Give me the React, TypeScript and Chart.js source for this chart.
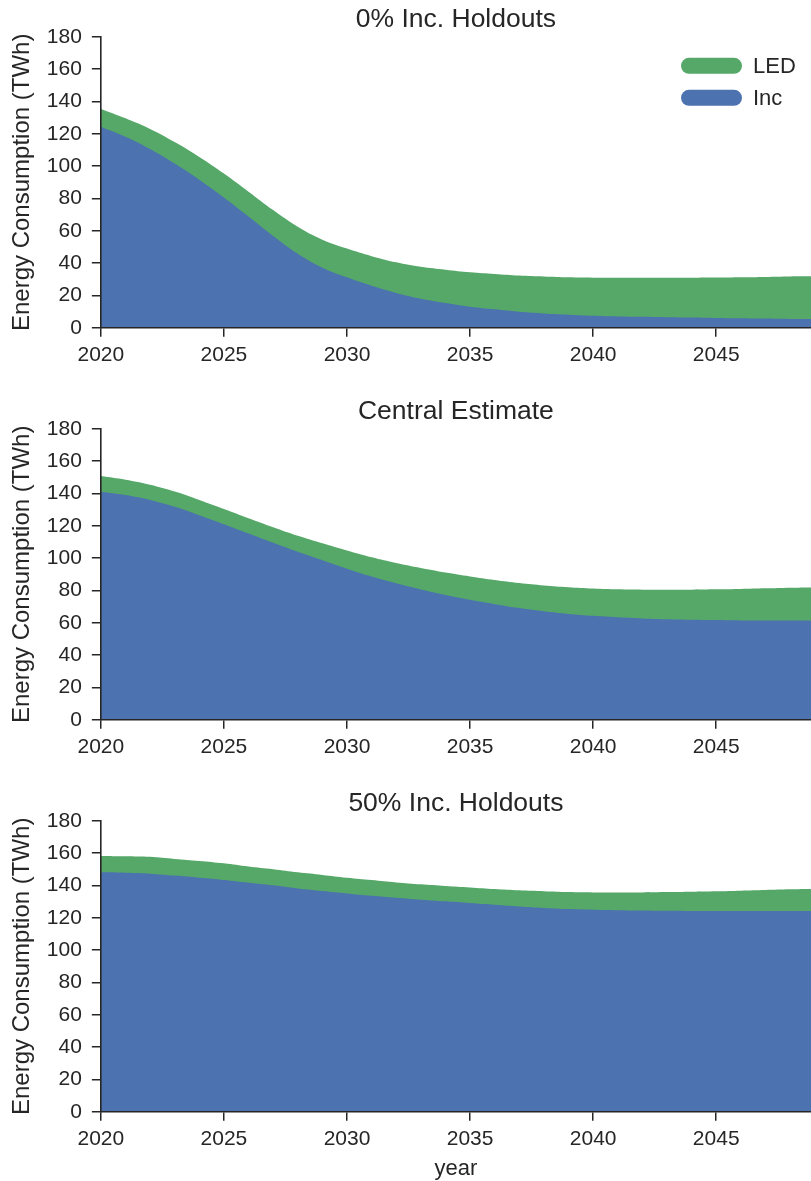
import { useEffect, useRef } from 'react';
import { Chart, registerables } from 'chart.js';

Chart.register(...registerables);

const years = [
  2020, 2021, 2022, 2023, 2024, 2025, 2026, 2027, 2028, 2029,
  2030, 2031, 2032, 2033, 2034, 2035, 2036, 2037, 2038, 2039,
  2040, 2041, 2042, 2043, 2044, 2045, 2046, 2047, 2048, 2049,
];
const xTicks = [2020, 2025, 2030, 2035, 2040, 2045];
const yTicks = [0, 20, 40, 60, 80, 100, 120, 140, 160, 180];

// 0% Inc. Holdouts
const zeroInc = [
  124.4, 118.2, 110.6, 101.6, 91.6, 80.6, 68.8, 56.8, 45.8, 37.2,
  31.2, 26, 21.6, 18, 15.3, 13, 11.4, 9.9, 8.9, 8.1,
  7.4, 7, 6.8, 6.6, 6.4, 6.1, 5.9, 5.7, 5.5, 5.4,
];
const zeroLed = [
  11, 11.4, 12.4, 13.3, 14.1, 14.8, 15.4, 16, 16.7, 17.3,
  17.8, 18.3, 18.9, 19.7, 20.6, 21.3, 21.9, 22.4, 22.8, 23.1,
  23.6, 24, 24.2, 24.4, 24.6, 25, 25.4, 25.8, 26.3, 26.5,
];

// Central Estimate
const centralInc = [
  141.1, 139, 136, 131.8, 126.6, 121, 115.2, 109.5, 103.9, 98.7,
  93.5, 88.6, 84.4, 80.6, 77.2, 74.2, 71.5, 69.1, 67.1, 65.5,
  64.3, 63.4, 62.7, 62.2, 61.9, 61.7, 61.5, 61.5, 61.5, 61.5,
];
const centralLed = [
  9.7, 9.5, 9.4, 9.4, 9.4, 9.4, 9.5, 9.6, 9.9, 10.5,
  11.2, 11.9, 12.6, 13.3, 13.9, 14.5, 15, 15.5, 16, 16.5,
  16.9, 17.3, 17.8, 18.3, 18.6, 19, 19.4, 19.8, 20.2, 20.4,
];

// 50% Inc. Holdouts
const halfInc = [
  148.1, 147.9, 147.3, 146.1, 144.8, 143.4, 141.7, 140.1, 138.2, 136.6,
  135.1, 133.7, 132.4, 131.2, 130.2, 129.2, 128.1, 127, 126.1, 125.4,
  125, 124.7, 124.5, 124.3, 124.2, 124.2, 124.2, 124.2, 124.2, 124.2,
];
const halfLed = [
  10.2, 10.2, 10.4, 10.3, 10.4, 10.3, 10, 9.9, 9.9, 9.9,
  9.7, 9.7, 9.5, 9.5, 9.5, 9.6, 9.7, 10, 10.3, 10.5,
  10.7, 11, 11.2, 11.6, 11.9, 12.2, 12.6, 13, 13.4, 13.6,
];

const BLUE = '#4c72b0';
const GREEN = '#55a868';
const TEXT = '#262626';
const FONT = "'Liberation Sans', Arial, sans-serif";

// legend drawn inside the plot, top right, with pill markers
const pillLegend = {
  id: 'pillLegend',
  afterDatasetsDraw(chart: any, _args: any, opts: any) {
    if (!opts || !opts.show) return;
    const { ctx, chartArea } = chart;
    const items = chart.data.datasets.slice().reverse();
    ctx.save();
    ctx.font = `22px ${FONT}`;
    ctx.textBaseline = 'middle';
    items.forEach((ds: any, i: number) => {
      const x = chartArea.right - 130;
      const y = chartArea.top + 21 + i * 32;
      ctx.fillStyle = ds.backgroundColor;
      ctx.beginPath();
      ctx.roundRect(x, y, 61, 16, 8);
      ctx.fill();
      ctx.fillStyle = TEXT;
      ctx.fillText(ds.label, x + 72, y + 9);
    });
    ctx.restore();
  },
};

interface PanelProps {
  title: string;
  inc: number[];
  led: number[];
  showLegend?: boolean;
  showXTitle?: boolean;
  height: number;
}

const Panel = ({ title, inc, led, showLegend, showXTitle, height }: PanelProps) => {
  const chartRef = useRef<HTMLCanvasElement | null>(null);
  const chartInstance = useRef<Chart | null>(null);

  useEffect(() => {
    if (!chartRef.current) return;
    const ctx = chartRef.current.getContext('2d');
    if (!ctx) return;

    if (chartInstance.current) {
      chartInstance.current.destroy();
    }

    const axisColor = TEXT;

    chartInstance.current = new Chart(ctx, {
      type: 'line',
      data: {
        datasets: [
          {
            label: 'Inc',
            data: years.map((y, i) => ({ x: y, y: inc[i] })),
            backgroundColor: BLUE,
            borderColor: 'rgba(0,0,0,0)',
            borderWidth: 0,
            pointRadius: 0,
            fill: 'origin',
            tension: 0.4,
          },
          {
            label: 'LED',
            data: years.map((y, i) => ({ x: y, y: led[i] })),
            backgroundColor: GREEN,
            borderColor: 'rgba(0,0,0,0)',
            borderWidth: 0,
            pointRadius: 0,
            fill: 'origin',
            tension: 0.4,
          },
        ],
      },
      plugins: [pillLegend],
      options: {
        responsive: true,
        maintainAspectRatio: false,
        animation: false,
        layout: { padding: { left: 0, right: 0, top: 0, bottom: showXTitle ? 0 : 18 } },
        plugins: {
          legend: { display: false },
          tooltip: { enabled: false },
          title: {
            display: true,
            text: title,
            color: TEXT,
            fullSize: false,
            font: { family: FONT, size: 26.5, weight: 'normal' },
            padding: { top: 4, bottom: 1 },
          },
          pillLegend: { show: !!showLegend },
        } as any,
        scales: {
          x: {
            type: 'linear',
            min: 2020,
            max: 2048.85,
            afterBuildTicks: (axis: any) => {
              axis.ticks = xTicks.map((v) => ({ value: v }));
            },
            ticks: {
              color: TEXT,
              font: { family: FONT, size: 21 },
              padding: 6,
              maxRotation: 0,
              callback: (v: any) => String(v),
            },
            grid: {
              display: true,
              drawOnChartArea: false,
              drawTicks: true,
              tickLength: 9,
              color: axisColor,
              lineWidth: 1.5,
            },
            border: { display: true, color: axisColor, width: 1.6, z: 1 },
            title: {
              display: !!showXTitle,
              text: 'year',
              color: TEXT,
              font: { family: FONT, size: 22, lineHeight: 1 },
              padding: { top: 0, bottom: 0 },
            },
          },
          y: {
            stacked: true,
            min: 0,
            max: 180,
            afterBuildTicks: (axis: any) => {
              axis.ticks = yTicks.map((v) => ({ value: v }));
            },
            ticks: {
              color: TEXT,
              font: { family: FONT, size: 21 },
              padding: 10,
            },
            grid: {
              display: true,
              drawOnChartArea: false,
              drawTicks: true,
              tickLength: 9,
              color: axisColor,
              lineWidth: 1.5,
            },
            border: { display: true, color: axisColor, width: 1.6, z: 1 },
            title: {
              display: true,
              text: 'Energy Consumption (TWh)',
              color: TEXT,
              font: { family: FONT, size: 24 },
              padding: { top: 8, bottom: 0 },
            },
          },
        },
      },
    });

    return () => {
      if (chartInstance.current) {
        chartInstance.current.destroy();
        chartInstance.current = null;
      }
    };
  }, [title, inc, led, showLegend, showXTitle]);

  return (
    <div style={{ position: 'relative', width: 811, height }}>
      <canvas ref={chartRef} />
    </div>
  );
};

const App = () => {
  useEffect(() => {
    document.body.style.margin = '0';
  }, []);

  return (
    <div style={{ width: 811, height: 1181, background: '#fff' }}>
      <Panel title="0% Inc. Holdouts" inc={zeroInc} led={zeroLed} showLegend height={392} />
      <Panel title="Central Estimate" inc={centralInc} led={centralLed} height={392} />
      <Panel title="50% Inc. Holdouts" inc={halfInc} led={halfLed} showXTitle height={396} />
    </div>
  );
};

export default App;
